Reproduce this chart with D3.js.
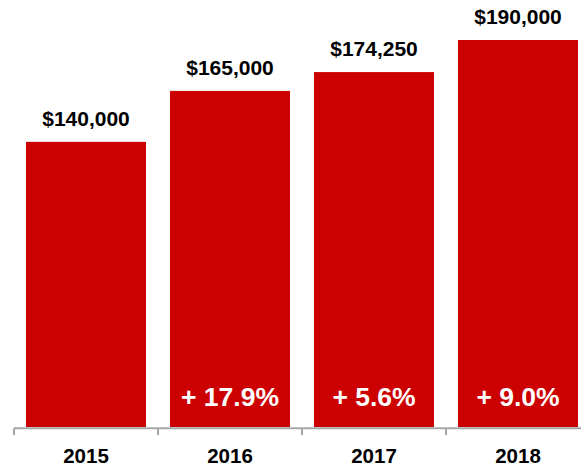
<!DOCTYPE html>
<html>
<head>
<meta charset="utf-8">
<script src="https://cdn.jsdelivr.net/npm/d3@7"></script>
<style>
  html, body { margin: 0; padding: 0; background: #fff; }
  svg { display: block; }
  text { font-family: "Liberation Sans", Arial, Helvetica, sans-serif; font-weight: bold; }
</style>
</head>
<body>
<svg id="chart" width="581" height="470"></svg>
<script>
// Median price by year, with year-over-year growth
const years = ["2015", "2016", "2017", "2018"];
const prices = [140000, 165000, 174250, 190000];
const growthLabels = ["", "+ 17.9%", "+ 5.6%", "+ 9.0%"];

const width = 581, height = 470;
const baseline = 427;

const svg = d3.select("#chart");

const x = d3.scaleBand()
  .domain(years)
  .range([14, 590])
  .paddingInner(1 / 6)
  .paddingOuter(1 / 12);

const y = d3.scaleLinear()
  .domain([0, 190000])
  .range([baseline, 40]);

const data = years.map((yr, i) => ({ year: yr, price: prices[i], growth: growthLabels[i] }));
const fmt = d3.format("$,");

// Bars
svg.append("g")
  .selectAll("rect")
  .data(data)
  .join("rect")
  .attr("x", d => x(d.year))
  .attr("y", d => y(d.price))
  .attr("width", x.bandwidth())
  .attr("height", d => y(0) - y(d.price))
  .attr("fill", "#CC0000");

// Category axis: baseline rule with ticks between categories
const axisY = y(0) + 1.3;
const gap = x.step() * x.paddingInner() / 2;
const axis = svg.append("g").attr("class", "axis");
axis.append("line")
  .attr("x1", x(years[0]) - gap)
  .attr("x2", width)
  .attr("y1", axisY)
  .attr("y2", axisY)
  .attr("stroke", "#A6A6A6")
  .attr("stroke-width", 2);
axis.selectAll("line.tick")
  .data(years)
  .join("line")
  .attr("class", "tick")
  .attr("x1", d => x(d) - gap)
  .attr("x2", d => x(d) - gap)
  .attr("y1", axisY)
  .attr("y2", axisY + 7)
  .attr("stroke", "#A6A6A6")
  .attr("stroke-width", 2);
axis.selectAll("text")
  .data(years)
  .join("text")
  .attr("x", d => x(d) + x.bandwidth() / 2)
  .attr("y", 463)
  .attr("text-anchor", "middle")
  .attr("font-size", 20.5)
  .attr("fill", "#000")
  .text(d => d);

// Value labels above bars
svg.append("g")
  .selectAll("text")
  .data(data)
  .join("text")
  .attr("x", d => x(d.year) + x.bandwidth() / 2)
  .attr("y", d => y(d.price) - 16)
  .attr("text-anchor", "middle")
  .attr("font-size", 21)
  .attr("fill", "#000")
  .text(d => fmt(d.price));

// Growth labels inside bars
svg.append("g")
  .selectAll("text")
  .data(data.filter(d => d.growth))
  .join("text")
  .attr("x", d => x(d.year) + x.bandwidth() / 2)
  .attr("y", 406)
  .attr("text-anchor", "middle")
  .attr("font-size", 26.5)
  .attr("fill", "#fff")
  .text(d => d.growth);
</script>
</body>
</html>
